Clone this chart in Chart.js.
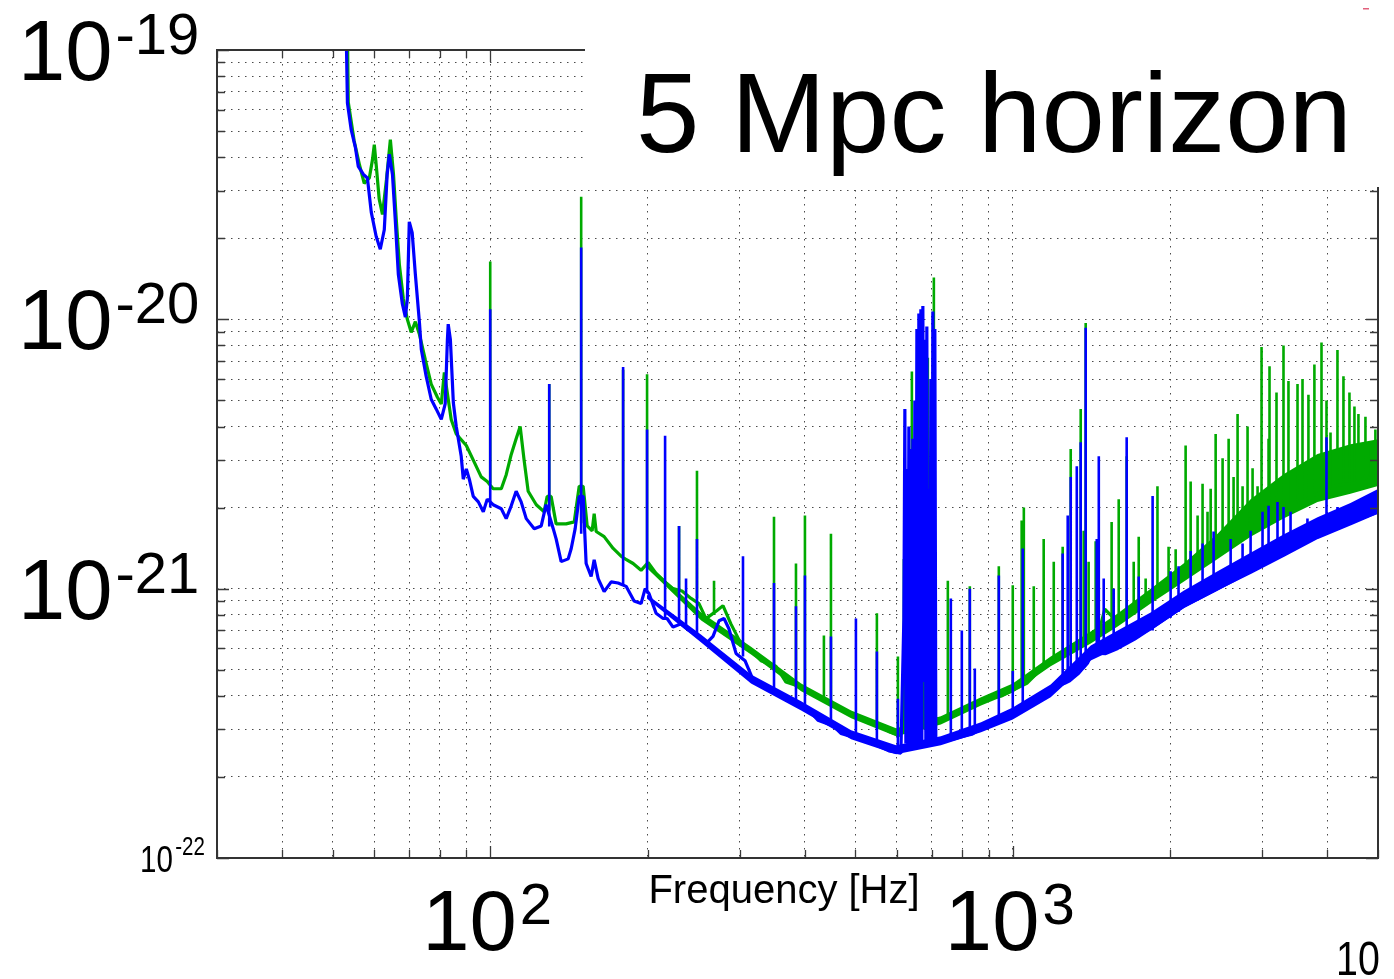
<!DOCTYPE html>
<html>
<head>
<meta charset="utf-8">
<script src="https://cdn.jsdelivr.net/npm/chart.js@4.4.1/dist/chart.umd.min.js"></script>
<style>
html, body { margin: 0; padding: 0; background: #fff; }
canvas { display: block; }
</style>
</head>
<body>
<canvas id="asd" width="1394" height="979"></canvas>
<script>

/* strain noise, [frequency Hz, amplitude 1/rtHz] */

// blue: continuous floor of the spectrum
const blueFloor = [
[53.0,1.2e-19],[53.3,6.35e-20],[54.2,5.05e-20],[55.2,4.35e-20],[55.9,3.7e-20],[57.2,3.45e-20],[58.2,3.35e-20],[59.2,2.5e-20],
[60.5,2.03e-20],[61.6,1.82e-20],[62.7,2.15e-20],[63.5,3.45e-20],[64.1,4.1e-20],[65.0,3.45e-20],[65.8,2.35e-20],[66.7,1.47e-20],
[67.9,1.14e-20],[68.8,1.02e-20],[69.4,1.19e-20],[70.0,2.3e-20],[70.9,2.1e-20],[71.9,1.47e-20],[73.2,9.75e-21],[73.8,7.75e-21],
[75.4,6.15e-21],[77.1,5.05e-21],[78.8,4.65e-21],[80.6,4.25e-21],[82.0,4.85e-21],[82.8,8.4e-21],[83.1,9.6e-21],[83.9,8.4e-21],
[85.0,4.9e-21],[86.1,4.0e-21],[88.0,3.1e-21],[88.8,2.55e-21],[90.0,2.78e-21],[91.2,2.55e-21],[92.8,2.2e-21],[94.9,2.1e-21],
[97.0,1.93e-21],[98.7,2.15e-21],[101.3,2.05e-21],[105,1.98e-21],[107.3,1.82e-21],[109.7,2.03e-21],[112.1,2.3e-21],[114.6,2.1e-21],
[117.2,1.82e-21],[121.4,1.67e-21],[125.2,1.71e-21],[127.9,2.05e-21],[132.0,1.67e-21],[133.7,1.53e-21],[136.7,1.26e-21],[141.0,1.29e-21],
[142.9,1.41e-21],[145.4,1.67e-21],[148.0,2.2e-21],[150.6,2.2e-21],[152.6,1.24e-21],[156.0,1.11e-21],[158.1,1.28e-21],[160.9,1.09e-21],
[165.2,9.75e-22],[170.4,1.06e-21],[175.7,1.05e-21],[182.0,1.02e-21],[188.5,9.0e-22],[194.4,8.8e-22],[197.9,1.0e-21],[201.3,9.6e-22],
[207.7,8.1e-22],[214.2,7.75e-22],[218.0,7.75e-22],[223.8,7.2e-22],[231.8,7.4e-22],[240.2,7.0e-22],[250.9,6.65e-22],[258.8,6.25e-22],
[266.9,6.65e-22],[274.1,7.6e-22],[280.2,7.75e-22],[286.3,7.1e-22],[295.4,5.75e-22],[307.3,5.4e-22],[319.8,4.5e-22],[334.1,4.35e-22],
[352.3,4.15e-22],[368.1,3.9e-22],[388.1,3.7e-22],[403.7,3.6e-22],[423.8,3.25e-22],[452.8,3.1e-22],[469.0,2.9e-22],[505.4,2.78e-22],
[525.8,2.7e-22],[554.4,2.6e-22],[579.4,2.5e-22],[610.8,2.45e-22],
// violin mode cluster
[618.9,7.75e-22],[621.6,4.65e-21],[624.4,2.66e-22],[627.1,2.78e-21],[629.9,2.6e-22],[632.7,4.0e-21],[635.5,2.66e-22],[638.3,3.3e-21],
[641.1,2.66e-22],[643.9,3.6e-21],[646.8,2.6e-22],[649.6,5.0e-21],[652.5,2.55e-22],[655.4,9.2e-21],[658.3,2.55e-22],[661.1,1.05e-20],
[664.0,2.6e-22],[667.0,1.09e-20],[669.9,2.66e-22],[672.9,1.12e-20],[675.8,4.5e-22],[678.8,8.4e-21],[681.8,2.66e-22],[684.8,9.4e-21],
[687.8,2.66e-22],[690.8,2.35e-21],[693.9,2.66e-22],[697.0,6.0e-21],[700.0,2.66e-22],[703.1,1.07e-20],[706.3,2.66e-22],[709.4,9.2e-21],
[712.5,2.66e-22],
[728.4,2.7e-22],[768.0,2.76e-22],[806.0,2.83e-22],[834.9,2.88e-22],[853.5,2.95e-22],[895.9,3.1e-22],[948.7,3.3e-22],[1009,3.47e-22],
[1059,3.6e-22],[1097,3.75e-22],[1131,3.9e-22],[1182,4.15e-22],[1219,4.35e-22],[1257,4.45e-22],[1285,4.55e-22],[1302,4.65e-22],
[1337,4.85e-22],[1361,5.05e-22],[1391,5.3e-22],[1410,5.6e-22],[1454,5.75e-22],[1473,5.75e-22],[1506,5.74e-22],[1588,6.0e-22],
[1711,6.5e-22],[1836,7.1e-22],[2123,8.6e-22],[2466,1.0e-21],[2852,1.15e-21],[3297,1.33e-21],[3830,1.55e-21],[4429,1.74e-21],
[5009,1.93e-21]
];

// edges of the noise bands (shared frequency grid)
const bandFreq = [199.6,253.4,315.6,393.6,490.6,598.0,728.4,869.6,1000,1182,1410,1588,1836,2123,2466,2852,3297,3830,4429,5009];
const blueBandHigh = [9.5e-22,6.75e-22,4.8e-22,3.82e-22,2.98e-22,2.62e-22,2.83e-22,3.19e-22,3.62e-22,4.41e-22,6.15e-22,6.99e-22,8.15e-22,9.83e-22,1.16e-21,1.36e-21,1.59e-21,1.84e-21,2.08e-21,2.35e-21];
const blueBandLow = [9.18e-22,6.31e-22,4.45e-22,3.53e-22,2.76e-22,2.43e-22,2.62e-22,2.93e-22,3.27e-22,3.95e-22,5.41e-22,6.04e-22,6.99e-22,8.46e-22,9.83e-22,1.14e-21,1.33e-21,1.55e-21,1.74e-21,1.9e-21];

// blue: narrow lines, [frequency, foot, peak]
const blueLines = [
[100,2.0e-21,1.09e-20],[129.7,1.7e-21,5.75e-21],[149.3,1.6e-21,1.85e-20],[179.6,1.03e-21,6.65e-21],[199.6,9.6e-22,3.9e-21],
[216.1,7.75e-22,3.7e-21],[229.8,7.3e-22,1.71e-21],[237.0,7.2e-22,1.09e-21],[248.7,6.7e-22,1.53e-21],[304.6,5.6e-22,1.32e-21],
[349.2,4.25e-22,1.05e-21],[384.7,3.8e-22,8.6e-22],[400.2,3.65e-22,1.12e-21],[448.8,3.15e-22,6.65e-22],[501.0,2.8e-22,7.75e-22],
[549.5,2.62e-22,5.85e-22],[602.8,2.47e-22,3.9e-22],[761.2,2.75e-22,9.2e-22],[798.9,2.8e-22,7.0e-22],[827.6,2.85e-22,1.0e-21],
[846.0,2.9e-22,5.05e-22],[940.4,3.25e-22,1.12e-21],[1000,3.45e-22,4.95e-22],[1045,3.55e-22,1.41e-21],[1246,4.4e-22,1.35e-21],
[1274,4.5e-22,1.87e-21],[1291,4.6e-22,2.6e-21],[1326,4.8e-22,2.85e-21],[1349,4.9e-22,3.5e-21],[1379,5.2e-22,9.3e-21],
[1448,5.7e-22,1.53e-21],[1461,5.75e-22,3.1e-21],[1493,5.9e-22,1.09e-21],[1560,6.1e-22,1.0e-21],[1652,6.3e-22,3.65e-21],
[1742,6.6e-22,1.11e-21],[1852,7.0e-22,2.21e-21],[2005,7.8e-22,1.16e-21],[2076,8.2e-22,1.21e-21],[2190,8.9e-22,1.38e-21],
[2308,9.4e-22,1.47e-21],[2423,9.9e-22,1.63e-21],[2612,1.07e-21,1.53e-21],[2753,1.13e-21,1.47e-21],[2852,1.17e-21,1.64e-21],
[3006,1.24e-21,1.93e-21],[3087,1.27e-21,2.03e-21],[3211,1.32e-21,2.1e-21],[3297,1.36e-21,2.01e-21],[3401,1.4e-21,1.93e-21],
[3664,1.5e-21,1.82e-21],[3985,1.62e-21,3.65e-21],[4182,1.7e-21,2.01e-21]
];

// green: continuous floor of the spectrum
const greenFloor = [
[53.3,1.2e-19],[53.5,6.4e-20],[54.9,4.6e-20],[56.2,3.75e-20],[57.4,3.2e-20],[58.7,3.35e-20],[59.5,3.9e-20],[60.0,4.45e-20],
[60.5,3.75e-20],[61.3,2.8e-20],[62.2,2.45e-20],[63.3,3.3e-20],[64.4,4.65e-20],[65.3,3.45e-20],[66.1,2.35e-20],[67.0,1.6e-20],
[68.2,1.19e-20],[69.4,1.0e-20],[70.6,8.95e-21],[71.9,9.8e-21],[73.2,8.8e-21],[75.1,7.1e-21],[77.1,5.75e-21],[79.2,5.15e-21],
[80.6,4.85e-21],[81.7,6.35e-21],[82.8,5.3e-21],[84.2,4.25e-21],[86.1,3.75e-21],[90.0,3.4e-21],[93.2,2.95e-21],[96.1,2.6e-21],
[98.7,2.5e-21],[101.3,2.35e-21],[105,2.35e-21],[107.3,2.65e-21],[109.7,3.15e-21],[112.1,3.6e-21],[114.1,4.0e-21],[116.1,3.0e-21],
[118.2,2.3e-21],[122.5,2.05e-21],[126.8,1.93e-21],[128.5,2.2e-21],[130.8,2.2e-21],[133.7,1.74e-21],[139.7,1.74e-21],[144.8,1.77e-21],
[148.0,2.4e-21],[150.6,2.4e-21],[153.3,1.71e-21],[156.7,1.64e-21],[158.1,1.9e-21],[159.5,1.63e-21],[165.2,1.56e-21],[171.9,1.41e-21],
[178.0,1.32e-21],[181.2,1.29e-21],[187.7,1.24e-21],[194.4,1.17e-21],[200.5,1.25e-21],[207.7,1.14e-21],[217.0,1.05e-21],[223.8,1.0e-21],
[232.8,9.8e-22],[242.3,9.2e-22],[250.9,8.8e-22],[258.8,7.74e-22],[271.7,8.3e-22],[278.9,8.65e-22],[288.8,7.4e-22],[301.9,6.25e-22],
[315.6,5.9e-22],[329.7,5.4e-22],[352.3,5.15e-22],[368.1,4.5e-22],[388.1,4.35e-22],[403.7,4.15e-22],[420.1,4.0e-22],[439.0,3.85e-22],
[452.8,3.75e-22],[479.4,3.5e-22],[512.2,3.3e-22],[554.4,3.1e-22],[579.4,2.95e-22],[608.1,2.85e-22],[627.1,3.3e-22],[715.7,3.3e-22],
[728.4,3.2e-22],[761.2,3.35e-22],[795.4,3.5e-22],[838.6,3.65e-22],[888.0,3.9e-22],[952.9,4.0e-22],[1013,4.25e-22],[1064,4.45e-22],
[1112,4.85e-22],[1161,5.15e-22],[1214,5.5e-22],[1263,5.75e-22],[1308,6.0e-22],[1361,6.5e-22],[1416,6.5e-22],[1467,7.1e-22],
[1500,8.4e-22],[1567,7.7e-22],[1616,8.1e-22],[1674,8.3e-22],[1727,8.8e-22],[1765,9.2e-22],[1836,9.3e-22],[1919,1.0e-21],
[2014,1.05e-21],[2086,1.09e-21],[2170,1.14e-21],[2219,1.19e-21],[2288,1.24e-21],[2339,1.29e-21],[2380,1.35e-21],[2423,1.41e-21],
[2477,1.47e-21],[2555,1.53e-21],[2623,1.6e-21],[2670,1.67e-21],[2729,1.7e-21],[2789,1.74e-21],[2852,1.82e-21],[2915,1.82e-21],
[2967,1.9e-21],[3033,1.9e-21],[3142,1.94e-21],[3240,1.98e-21],[3341,2.06e-21],[3431,2.06e-21],[3554,2.15e-21],[3632,2.15e-21],
[3729,2.2e-21],[3828,2.25e-21],[3950,2.3e-21],[4020,2.35e-21],[4110,2.4e-21],[4238,2.43e-21],[4351,2.45e-21],[4468,2.47e-21],
[4547,2.5e-21],[4648,2.55e-21],[4793,2.6e-21],[4878,2.65e-21],[4987,2.66e-21],[5009,2.7e-21]
];

const greenBandHigh = [1.24e-21,8.15e-22,6.09e-22,4.45e-22,3.53e-22,3.03e-22,3.36e-22,3.95e-22,4.45e-22,5.6e-22,6.93e-22,8.08e-22,1.0e-21,1.24e-21,1.6e-21,2.15e-21,2.66e-21,3.16e-21,3.44e-21,3.59e-21];
const greenBandLow = [1.19e-21,7.61e-22,5.7e-22,4.16e-22,3.3e-22,2.83e-22,3.13e-22,3.68e-22,4.12e-22,5.15e-22,6.26e-22,7.23e-22,8.8e-22,1.06e-21,1.29e-21,1.56e-21,1.82e-21,2.1e-21,2.25e-21,2.41e-21];

// green: narrow lines, [frequency, foot, peak]
const greenLines = [
[100,2.45e-21,1.64e-20],[129.7,1.95e-21,5.75e-21],[149.3,1.75e-21,2.85e-20],[179.6,1.32e-21,6.5e-21],[199.6,1.2e-21,6.25e-21],
[229.8,1.0e-21,1.71e-21],[248.7,9.2e-22,2.74e-21],[268.1,8.0e-22,1.07e-21],[349.2,5.2e-22,1.85e-21],[384.7,4.45e-22,1.24e-21],
[400.2,4.3e-22,1.87e-21],[435.1,3.95e-22,6.7e-22],[448.8,3.8e-22,1.6e-21],[549.5,3.15e-22,8.1e-22],[602.8,2.9e-22,5.6e-22],
[618.9,2.9e-22,1.29e-21],[641.1,3.0e-22,6.4e-21],[661.1,3.0e-22,9.2e-21],[675.8,3.0e-22,7.1e-21],[687.8,3.0e-22,7.2e-21],
[706.3,3.0e-22,1.43e-20],[751.2,3.3e-22,1.07e-21],[827.6,3.6e-22,1.02e-21],[940.4,3.95e-22,1.21e-21],[1000,4.2e-22,1.03e-21],
[1040,4.35e-22,1.79e-21],[1050,4.4e-22,2.0e-21],[1097,4.7e-22,1.02e-21],[1146,5.0e-22,1.53e-21],[1198,5.3e-22,1.26e-21],
[1246,5.6e-22,1.43e-21],[1291,5.9e-22,3.3e-21],[1349,6.3e-22,4.65e-21],[1367,6.4e-22,1.64e-21],[1379,6.5e-22,9.7e-21],
[1397,6.5e-22,1.26e-21],[1441,6.8e-22,1.5e-21],[1546,7.5e-22,1.77e-21],[1595,7.8e-22,2.15e-21],[1652,8.2e-22,3.1e-21],
[1704,8.5e-22,1.26e-21],[1742,8.8e-22,1.56e-21],[1796,9.1e-22,1.09e-21],[1892,9.7e-22,2.4e-21],[1987,1.04e-21,1.43e-21],
[2050,1.08e-21,1.4e-21],[2142,1.12e-21,3.4e-21],[2190,1.15e-21,2.5e-21],[2258,1.2e-21,1.87e-21],[2308,1.25e-21,2.45e-21],
[2359,1.3e-21,1.93e-21],[2392,1.33e-21,2.35e-21],[2445,1.38e-21,3.75e-21],[2521,1.45e-21,3.05e-21],[2589,1.5e-21,3.6e-21],
[2646,1.55e-21,2.6e-21],[2693,1.6e-21,4.45e-21],[2753,1.65e-21,2.4e-21],[2814,1.7e-21,4.0e-21],[2877,1.75e-21,2.8e-21],
[2941,1.8e-21,2.4e-21],[2993,1.85e-21,7.9e-21],[3087,1.9e-21,3.6e-21],[3100,1.9e-21,6.7e-21],[3197,1.95e-21,5.35e-21],
[3297,2.0e-21,8.0e-21],[3370,2.05e-21,5.9e-21],[3507,2.1e-21,5.75e-21],[3585,2.15e-21,6.0e-21],[3680,2.2e-21,5.25e-21],
[3778,2.25e-21,6.8e-21],[3898,2.3e-21,8.2e-21],[3985,2.35e-21,5.0e-21],[4056,2.35e-21,3.8e-21],[4182,2.4e-21,7.7e-21],
[4294,2.45e-21,6.15e-21],[4409,2.45e-21,5.35e-21],[4507,2.5e-21,4.75e-21],[4587,2.5e-21,4.45e-21],[4731,2.55e-21,4.35e-21],
[4836,2.6e-21,3.45e-21],[4943,2.65e-21,3.9e-21]
];

/* axes */
const freqRange = [30, 5000];
const asdRange = [1e-22, 1e-19];
const freqDecades = [10, 100, 1000];
const asdDecades = [1e-22, 1e-21, 1e-20];
const steps = [1, 2, 3, 4, 5, 6, 7, 8, 9];
const xTickLabels = [{ value: 100, exp: "2" }, { value: 1000, exp: "3" }];
const yTickLabels = [{ value: 1e-19, exp: "-19" }, { value: 1e-20, exp: "-20" }, { value: 1e-21, exp: "-21" }];
const yCornerLabel = { value: 1e-22, exp: "-22" };
const titleText = "5 Mpc horizon";
const xTitle = "Frequency [Hz]";
const pageNo = "10";

const BLUE = "#0000ff";
const GREEN = "#00aa00";
const FONT = '"Liberation Sans", Arial, Helvetica, sans-serif';

function gridValues(decades, range){
  let out = [];
  decades.forEach(d => steps.forEach(s => {
    let v = d * s;
    if (v >= range[0] * 0.999 && v <= range[1] * 1.001) out.push(v);
  }));
  if (out[out.length - 1] < range[1] * 0.999) out.push(range[1]);
  return out;
}

function isDecade(v){
  let l = Math.log10(v);
  return Math.abs(l - Math.round(l)) < 1e-6;
}

function toPoints(trace){
  return trace.map(p => ({ x: p[0], y: p[1] }));
}

function bandPoints(freqs, vals){
  return freqs.map((f, i) => ({ x: f, y: vals[i] }));
}

// each line becomes a vertical stroke, separated by gaps
function linePoints(lines){
  let pts = [];
  lines.forEach(l => {
    pts.push({ x: l[0], y: l[1] }, { x: l[0], y: l[2] }, { x: l[0], y: null });
  });
  return pts;
}

// base "10" plus a raised exponent, starting at x
function drawPower(ctx, x, base, exp, bigPx, supPx, supRise, squeeze){
  ctx.save();
  ctx.translate(x, base);
  ctx.scale(squeeze, 1);
  ctx.font = bigPx + "px " + FONT;
  let w = ctx.measureText("10").width;
  ctx.fillText("10", 0, 0);
  ctx.font = supPx + "px " + FONT;
  ctx.fillText(exp, w + 3, -supRise);
  ctx.restore();
}

function powerWidth(ctx, exp, bigPx, supPx, squeeze){
  ctx.save();
  ctx.font = bigPx + "px " + FONT;
  let w = ctx.measureText("10").width + 3;
  ctx.font = supPx + "px " + FONT;
  w += ctx.measureText(exp).width;
  ctx.restore();
  return w * squeeze;
}

const decorations = {
  id: "decorations",
  afterDraw(chart){
    const { ctx, chartArea: a, scales: { x, y } } = chart;
    ctx.save();

    // inward tick marks on all four sides
    ctx.strokeStyle = "#3a3a3a";
    ctx.lineWidth = 1.3;
    ctx.beginPath();
    x.ticks.forEach(t => {
      let px = Math.round(x.getPixelForValue(t.value)) + 0.5;
      let len = isDecade(t.value) ? 12 : 8;
      ctx.moveTo(px, a.bottom); ctx.lineTo(px, a.bottom - len);
      ctx.moveTo(px, a.top); ctx.lineTo(px, a.top + len);
    });
    y.ticks.forEach(t => {
      let py = Math.round(y.getPixelForValue(t.value)) + 0.5;
      let len = isDecade(t.value) ? 12 : 8;
      ctx.moveTo(a.left, py); ctx.lineTo(a.left + len, py);
      ctx.moveTo(a.right, py); ctx.lineTo(a.right - len, py);
    });
    ctx.stroke();

    // frame
    ctx.strokeStyle = "#333";
    ctx.lineWidth = 2;
    ctx.strokeRect(a.left, a.top, a.right - a.left, a.bottom - a.top);

    // white panel behind the headline
    ctx.fillStyle = "#fff";
    ctx.fillRect(585, 0, chart.width - 585, 187);

    ctx.fillStyle = "#000";
    ctx.textAlign = "left";
    ctx.textBaseline = "alphabetic";

    ctx.font = "114px " + FONT;
    ctx.fillText(titleText, 636, 152);

    // y tick labels
    yTickLabels.forEach(l => {
      let py = y.getPixelForValue(l.value);
      drawPower(ctx, 18, py + 30, l.exp, 85, 58, 26, 1);
    });
    let pyc = y.getPixelForValue(yCornerLabel.value);
    drawPower(ctx, 140, pyc + 14, yCornerLabel.exp, 36, 25, 17, 0.82);

    // x tick labels
    xTickLabels.forEach(l => {
      let px = x.getPixelForValue(l.value);
      let w = powerWidth(ctx, l.exp, 85, 58, 1);
      drawPower(ctx, px - 3 - w / 2, 950, l.exp, 85, 58, 26, 1);
    });

    ctx.font = "40px " + FONT;
    ctx.textAlign = "center";
    ctx.fillText(xTitle, 784, 903);

    // page number
    ctx.save();
    ctx.translate(1336, 975);
    ctx.scale(0.82, 1);
    ctx.textAlign = "left";
    ctx.font = "48px " + FONT;
    ctx.fillText(pageNo, 0, 0);
    ctx.restore();

    ctx.fillStyle = "#e2607c";
    ctx.fillRect(1363, 8, 6, 1.5);

    ctx.restore();
  }
};

const gridStyle = { color: "#4a4a4a", lineWidth: 1, drawTicks: false };
const dotted = { display: false, dash: [1.5, 5.5] };
const clear = "rgba(0,0,0,0)";

new Chart(document.getElementById("asd"), {
  type: "line",
  data: {
    datasets: [
      { data: linePoints(blueLines), borderColor: BLUE, borderWidth: 2.6, spanGaps: false, order: 1 },
      { data: toPoints(blueFloor), borderColor: BLUE, borderWidth: 3.2, order: 2 },
      { data: bandPoints(bandFreq, blueBandLow), borderColor: clear, order: 3 },
      { data: bandPoints(bandFreq, blueBandHigh), borderColor: clear, backgroundColor: BLUE, fill: 2, order: 3 },
      { data: linePoints(greenLines), borderColor: GREEN, borderWidth: 2.6, spanGaps: false, order: 4 },
      { data: toPoints(greenFloor), borderColor: GREEN, borderWidth: 3.2, order: 5 },
      { data: bandPoints(bandFreq, greenBandLow), borderColor: clear, order: 6 },
      { data: bandPoints(bandFreq, greenBandHigh), borderColor: clear, backgroundColor: GREEN, fill: 6, order: 6 }
    ]
  },
  options: {
    responsive: false,
    animation: false,
    devicePixelRatio: 1,
    parsing: false,
    layout: { padding: { left: 217, right: 16, top: 50, bottom: 121 } },
    elements: {
      line: { borderWidth: 3, tension: 0, borderJoinStyle: "bevel", borderCapStyle: "butt" },
      point: { radius: 0 }
    },
    plugins: { legend: { display: false }, tooltip: { enabled: false } },
    scales: {
      x: {
        type: "logarithmic",
        min: freqRange[0], max: freqRange[1],
        ticks: { display: false },
        grid: gridStyle,
        border: dotted,
        afterBuildTicks: s => { s.ticks = gridValues(freqDecades, freqRange).map(v => ({ value: v })); }
      },
      y: {
        type: "logarithmic",
        min: asdRange[0], max: asdRange[1],
        ticks: { display: false },
        grid: gridStyle,
        border: dotted,
        afterBuildTicks: s => { s.ticks = gridValues(asdDecades, asdRange).map(v => ({ value: v })); }
      }
    }
  },
  plugins: [decorations]
});

</script>
</body>
</html>
